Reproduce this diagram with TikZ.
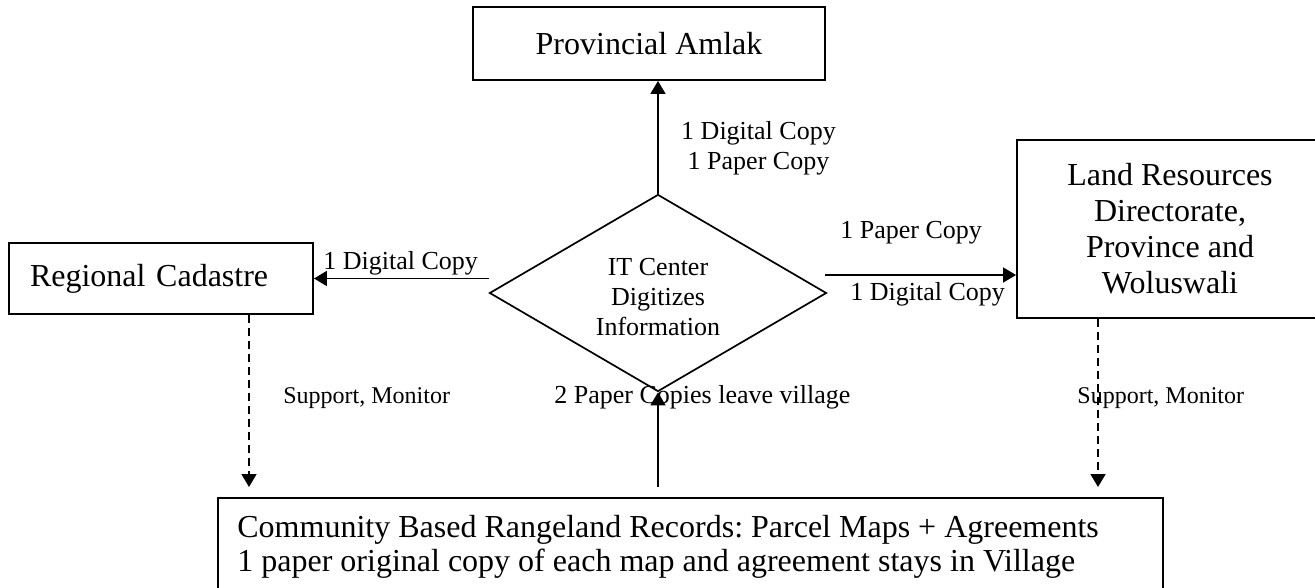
\documentclass[tikz,border=0pt]{standalone}
\usepackage{fontspec}
\setmainfont{Liberation Serif}
\usetikzlibrary{shapes.geometric,arrows.meta,calc}
\frenchspacing
\begin{document}
\begin{tikzpicture}[x=0.5pt,y=-0.5pt,
  box/.style={draw, line width=0.95pt, rectangle, inner sep=0pt},
  bigtxt/.style={font=\fontsize{16}{18}\selectfont},
  lbl/.style={font=\fontsize{13}{15}\selectfont, inner sep=0pt},
  sm/.style={font=\fontsize{12}{14}\selectfont, inner sep=0pt},
  arr/.style={line width=0.85pt, -{Triangle[length=6.5pt,width=7.5pt]}},
  darr/.style={line width=0.85pt, dash pattern=on 4pt off 2.5pt, -{Triangle[length=6.5pt,width=7.5pt]}}]
\useasboundingbox (0,0) rectangle (1315,588);
\clip (0,0) rectangle (1315,588);

% boxes
\node[box, bigtxt, minimum width=176pt, minimum height=36.5pt] (amlak) at (649,43.5) {Provincial Amlak};
\node[box, bigtxt, text width=131pt, inner xsep=10.5pt, minimum height=35.5pt, align=left] (cad) at (161,278.5) {Regional Cadastre};
\node[box, bigtxt, align=center, minimum width=153pt, minimum height=89pt] (land) at (1170,229) {Land Resources\\Directorate,\\Province and\\Woluswali};
\node[draw, diamond, aspect=2, line width=0.85pt, inner sep=0pt, minimum width=168.5pt, minimum height=98.5pt] (dia) at (658,293) {};
\node[align=center, font=\fontsize{13}{15}\selectfont, inner sep=0pt] (diatxt) at (658,297) {IT Center\\Digitizes\\Information};
\node[box, anchor=north west, minimum width=472.5pt, minimum height=60pt] (rec) at (217,497) {};
\node[bigtxt, anchor=base west, inner sep=0pt] (rec1) at (237,537) {Community Based Rangeland Records: Parcel Maps + Agreements};
\node[bigtxt, anchor=base west, inner sep=0pt] (rec2) at (237,571) {1 paper original copy of each map and agreement stays in Village};

% labels
\node[lbl, align=center] (lt) at (758.5,148) {1 Digital Copy\\1 Paper Copy};
\node[lbl, anchor=base west] (ll) at (323,269) {1 Digital Copy};
\node[lbl, anchor=base west] (lr1) at (840,238) {1 Paper Copy};
\node[lbl, anchor=base west] (lr2) at (850,300) {1 Digital Copy};
\node[lbl, anchor=base west] (lb) at (554,403) {2 Paper Copies leave village};
\node[sm, anchor=base west] (s1) at (283,403) {Support, Monitor};
\node[sm, anchor=base west] (s2) at (1077,403) {Support, Monitor};

% connectors
\draw[arr] (dia.north) -- (dia.north |- amlak.south);
\draw[arr] (dia.west |- cad.east) -- (cad.east);
\coordinate (de) at ($(dia.east)+(-2,-18)$);
\draw[arr] (de) -- (de -| land.west);
\draw[arr] ($(dia.south |- rec.north)+(0,-10)$) -- (dia.south);
\coordinate (cs) at ($(cad.south)+(88,0)$);
\draw[darr] (cs) -- ($(cs |- rec.north)+(0,-10)$);
\coordinate (ls) at ($(land.south)+(-72,0)$);
\draw[darr] (ls) -- ($(ls |- rec.north)+(0,-10)$);
\end{tikzpicture}
\end{document}
